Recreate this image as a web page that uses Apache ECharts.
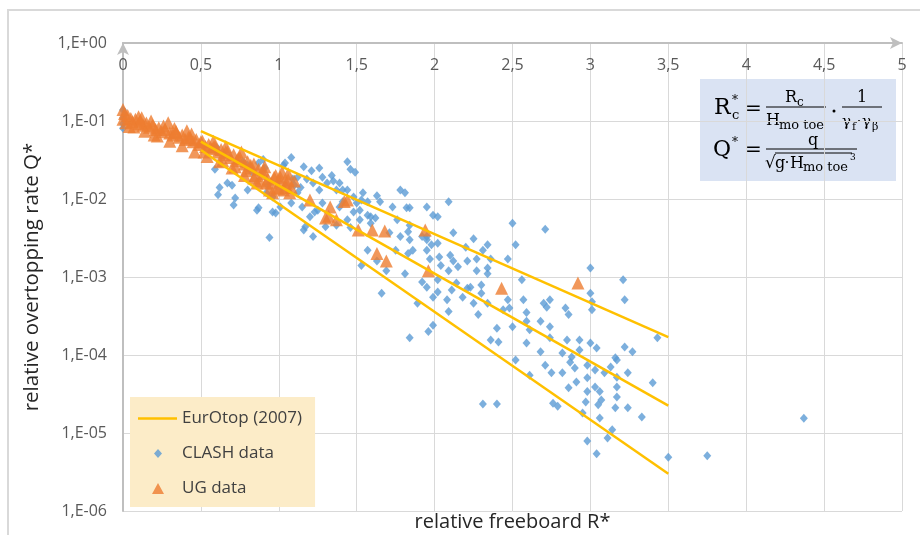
<!DOCTYPE html>
<html>
<head>
<meta charset="utf-8">
<script src="https://cdn.jsdelivr.net/npm/echarts@6/dist/echarts.min.js"></script>
<style>
html, body { margin: 0; padding: 0; background: #fff; }
#chart { width: 920px; height: 535px; }
</style>
</head>
<body>
<div id="chart"></div>
<script>
// EurOtop (2007) lines: [R*, Q*] end points
const eurotopUpper = [[0.5, 0.074], [3.5, 0.00017]];
const eurotopMean = [[0.5, 0.0545], [3.5, 0.0000224]];
const eurotopLower = [[0.5, 0.0425], [3.5, 0.000003]];

// CLASH data [R*, Q*]
const clashData = [
    [0, 0.138], [0, 0.109], [0, 0.092], [0, 0.081], [0.01, 0.12],
    [0.60, 0.046], [0.61, 0.040], [0.59, 0.024], [0.67, 0.016], [0.70, 0.015], [0.62, 0.014], [0.61, 0.0113],
    [0.72, 0.0103], [0.71, 0.0084], [0.77, 0.030], [0.80, 0.027], [0.87, 0.029], [0.90, 0.032], [0.91, 0.025],
    [0.83, 0.022], [0.86, 0.0072], [0.96, 0.0068], [1.04, 0.029], [1.08, 0.034], [1.16, 0.026], [1.21, 0.023],
    [1.12, 0.019], [1.10, 0.015], [1.15, 0.0079], [1.08, 0.0089], [1.17, 0.0044], [1.23, 0.0068], [0.93, 0.015],
    [0.96, 0.0106], [0.80, 0.013], [0.87, 0.0077], [0.94, 0.0032], [1.22, 0.0033], [1.16, 0.0040], [0.98, 0.0066],
    [1.03, 0.027], [1.26, 0.025], [1.34, 0.020], [1.44, 0.030], [1.46, 0.024], [1.49, 0.022], [1.39, 0.016],
    [1.31, 0.016], [1.26, 0.013], [1.14, 0.014], [1.20, 0.0059], [1.30, 0.0044], [1.39, 0.0079], [1.48, 0.0068],
    [1.54, 0.012], [1.57, 0.0092], [1.52, 0.0072], [1.52, 0.0054], [1.59, 0.0059], [1.63, 0.011], [1.65, 0.0092],
    [1.62, 0.0057], [1.57, 0.0022], [1.46, 0.0043], [1.78, 0.013], [1.81, 0.012], [1.73, 0.0079], [1.76, 0.0054],
    [1.82, 0.0077], [1.71, 0.0037], [1.78, 0.0033], [1.84, 0.0046], [1.95, 0.0079], [1.99, 0.0062], [1.95, 0.0030],
    [1.86, 0.0022], [1.75, 0.0022], [2.02, 0.0027], [2.09, 0.0092], [2.02, 0.0059], [1.83, 0.0038], [1.84, 0.0030],
    [1.95, 0.0033], [1.95, 0.0022], [1.98, 0.0026], [1.83, 0.0020], [1.81, 0.0011], [1.92, 0.00086], [1.99, 0.00055],
    [1.89, 0.00046], [2.08, 0.00051], [2.09, 0.00036], [2.12, 0.0037], [2.04, 0.0014], [2.12, 0.0016], [2.15, 0.00135],
    [2.14, 0.00084], [2.21, 0.0016], [2.25, 0.0031], [2.21, 0.00072], [2.31, 0.0022], [2.34, 0.0026], [2.27, 0.0012],
    [2.34, 0.0013], [2.30, 0.00079], [2.36, 0.0017], [2.25, 0.00046], [2.34, 0.00046], [2.28, 0.00033], [2.50, 0.0049],
    [2.52, 0.0026], [2.47, 0.0017], [2.56, 0.00092], [2.47, 0.00051], [2.57, 0.00051], [2.59, 0.00035], [2.71, 0.0041],
    [2.74, 0.00051], [2.72, 0.00041], [3.00, 0.0013], [3.21, 0.00092], [3.22, 0.00051], [2.34, 0.0011], [2.30, 0.00062],
    [2.48, 0.0004], [2.44, 0.00038], [2.70, 0.00046], [2.84, 0.0004], [2.86, 0.00033], [3.00, 0.00062], [3.01, 0.00048],
    [3.01, 0.00038], [2.59, 0.00027], [2.61, 0.00021], [2.68, 0.00027], [2.74, 0.00023], [2.40, 0.00022], [2.50, 0.00023],
    [2.36, 0.000156], [2.41, 0.000147], [2.59, 0.000143], [2.74, 0.000166], [2.85, 0.000156], [2.93, 0.000156],
    [3.00, 0.000143], [3.04, 0.000123], [2.82, 0.000106], [2.88, 0.000094], [2.93, 0.000116], [2.68, 0.00011],
    [2.52, 0.000086], [2.71, 0.000074], [2.82, 0.000059], [2.98, 0.000074], [3.03, 0.000064], [3.13, 0.00007],
    [3.17, 0.000086], [3.22, 0.000127], [3.09, 0.000059], [2.61, 0.000055], [2.75, 0.000059], [2.87, 0.000081],
    [2.90, 0.000068], [3.17, 0.000052], [3.24, 0.000059], [3.40, 0.000044], [2.98, 0.000051], [2.86, 0.000038],
    [2.91, 0.000045], [2.98, 0.000034], [2.97, 0.000025], [3.03, 0.000039], [3.06, 0.000034], [3.07, 0.0000265],
    [3.05, 0.000023], [3.17, 0.000039], [3.17, 0.000029], [3.16, 0.000021], [3.24, 0.000021], [3.33, 0.000016],
    [3.06, 0.0000156], [2.76, 0.000024], [2.79, 0.000022], [2.95, 0.000018], [3.14, 0.000011], [3.11, 0.0000086],
    [2.98, 0.0000079], [3.04, 0.0000054], [3.50, 0.0000049], [3.75, 0.0000051], [4.37, 0.0000155], [3.43, 0.000166],
    [3.27, 0.00011], [3.16, 0.000092], [2.31, 0.0000235], [2.40, 0.0000235], [1.66, 0.00062], [1.84, 0.000166],
    [1.96, 0.0002], [1.99, 0.00024], [1.69, 0.0012], [1.41, 0.013], [1.53, 0.0097], [1.84, 0.0077], [1.92, 0.0033],
    [1.63, 0.0016], [1.53, 0.0014], [1.97, 0.0017], [2.03, 0.0018], [2.10, 0.0019], [2.09, 0.0012], [2.27, 0.0017],
    [2.20, 0.0024], [2.02, 0.00064], [2.11, 0.00068], [2.18, 0.00055], [2.23, 0.00074], [1.95, 0.00074], [2.02, 0.00092],
    [1.09, 0.018], [1.18, 0.018], [1.22, 0.016], [1.28, 0.019], [1.35, 0.017], [1.37, 0.013], [1.44, 0.013],
    [1.48, 0.0106], [1.41, 0.0092], [1.50, 0.0089], [1.57, 0.0062], [1.59, 0.0049], [1.37, 0.0046], [1.44, 0.0054],
    [1.25, 0.0072], [1.28, 0.0089], [1.12, 0.012], [1.01, 0.0079], [0.92, 0.012]
];

// UG data [R*, Q*]
const ugData = [
    [0.00, 0.14], [0.00, 0.105], [0.01, 0.125], [0.02, 0.095], [0.03, 0.118], [0.05, 0.108], [0.06, 0.098],
    [0.08, 0.105], [0.10, 0.092], [0.11, 0.1], [0.13, 0.088], [0.15, 0.094], [0.17, 0.083], [0.19, 0.088],
    [0.21, 0.078], [0.23, 0.082], [0.25, 0.073], [0.27, 0.078], [0.29, 0.095], [0.30, 0.07], [0.32, 0.066],
    [0.34, 0.071], [0.36, 0.062], [0.38, 0.066], [0.40, 0.058], [0.41, 0.075], [0.43, 0.06], [0.45, 0.054],
    [0.47, 0.058], [0.49, 0.05], [0.51, 0.055], [0.53, 0.047], [0.55, 0.05], [0.57, 0.044], [0.59, 0.047],
    [0.61, 0.04], [0.63, 0.043], [0.65, 0.037], [0.67, 0.04], [0.69, 0.034], [0.71, 0.037], [0.73, 0.031],
    [0.75, 0.034], [0.78, 0.028], [0.80, 0.03], [0.82, 0.025], [0.85, 0.02], [0.86, 0.016], [0.87, 0.024],
    [0.90, 0.021], [0.93, 0.018], [0.95, 0.016], [0.97, 0.019], [0.99, 0.014], [1.01, 0.017], [1.03, 0.013],
    [1.05, 0.016], [1.06, 0.021], [1.08, 0.014], [1.10, 0.017],
    [0.04, 0.085], [0.12, 0.11], [0.20, 0.066], [0.33, 0.08], [0.44, 0.068], [0.52, 0.04], [0.58, 0.055],
    [0.64, 0.031], [0.66, 0.047], [0.72, 0.026], [0.76, 0.04], [0.79, 0.023], [0.84, 0.028], [0.88, 0.017],
    [0.91, 0.026], [0.96, 0.012], [1.02, 0.022], [1.07, 0.012],
    [0.07, 0.084], [0.14, 0.074], [0.22, 0.064], [0.30, 0.055], [0.38, 0.048], [0.46, 0.040], [0.54, 0.035],
    [0.62, 0.030], [0.70, 0.025], [0.78, 0.020], [0.84, 0.0186], [0.92, 0.016], [1.00, 0.0135],
    [0.10, 0.113], [0.18, 0.1], [0.26, 0.086], [0.34, 0.074], [0.42, 0.062], [0.50, 0.054], [0.58, 0.046],
    [0.66, 0.040], [0.74, 0.033], [0.82, 0.027], [0.90, 0.0235], [0.98, 0.020], [1.06, 0.0176],
    [1.01, 0.019], [1.05, 0.014], [0.94, 0.013], [1.20, 0.0097], [1.33, 0.0079], [1.32, 0.006], [1.30, 0.0057],
    [1.37, 0.0054], [1.42, 0.0093], [1.44, 0.0097], [1.51, 0.004], [1.60, 0.004], [1.68, 0.0039], [1.63, 0.002],
    [1.69, 0.0016], [1.94, 0.004], [1.96, 0.0012], [2.43, 0.00072], [2.92, 0.00084]
];

const yTickLabels = ['1,E-06', '1,E-05', '1,E-04', '1,E-03', '1,E-02', '1,E-01', '1,E+00'];

const sans = '"Open Sans", sans-serif';
const serif = '"DejaVu Serif", serif';
const axisGrey = '#bfbfbf';

// formula box helpers
function txt(text, x, y, size, align) {
    return {
        type: 'text', x: x, y: y, silent: true,
        style: {text: text, fontFamily: serif, fontSize: size, fill: '#000', align: align || 'left', verticalAlign: 'middle'}
    };
}
function bar(x1, x2, y) {
    return {type: 'line', silent: true, shape: {x1: x1, y1: y, x2: x2, y2: y}, style: {stroke: '#000', lineWidth: 1}};
}
function dot(x, y, r) {
    return {type: 'circle', silent: true, shape: {cx: x, cy: y, r: r}, style: {fill: '#000'}};
}

const formula = {
    type: 'group', z: 100,
    children: [
        {type: 'rect', shape: {x: 700, y: 79, width: 196, height: 102}, style: {fill: '#dae3f3'}, silent: true},
        txt('R', 714, 108, 22), txt('*', 732, 101, 12), txt('c', 732, 116, 13),
        txt('=', 745, 110, 20),
        txt('R', 785, 98, 16), txt('c', 797, 103, 12),
        bar(766, 826, 107),
        txt('H', 766, 121, 16), txt('mo toe', 779, 126, 13),
        dot(834, 111, 1.5),
        txt('1', 862, 98, 16, 'center'),
        bar(842, 882, 107),
        txt('γ', 842, 122, 15), txt('f', 852, 127, 11), dot(859, 121, 1),
        txt('γ', 862, 122, 15), txt('β', 872, 127, 11),
        txt('Q', 713, 150, 22), txt('*', 732, 143, 12),
        txt('=', 745, 151, 20),
        txt('q', 813, 141, 16, 'center'),
        bar(766, 857, 149),
        txt('√', 765, 164, 17),
        bar(775, 852, 153),
        txt('g', 775, 164, 16), dot(787, 162, 1),
        txt('H', 790, 164, 16), txt('mo toe', 803, 168, 13), txt('3', 850, 158, 9)
    ]
};

// legend icons (39x12 box), thin corner specks keep the box size
const box = 'M0,0 L0.01,0 L0,0.01 Z M39,12 L38.99,12 L39,11.99 Z ';
const lineIcon = 'path://' + box + 'M0,4.8 L39,4.8 L39,7.2 L0,7.2 Z';
const diamondIcon = 'path://' + box + 'M20,1.5 L24,6 L20,10.5 L16,6 Z';
const triangleIcon = 'path://' + box + 'M20,0.5 L26,11.5 L14,11.5 Z';

const chart = echarts.init(document.getElementById('chart'));

const lineStyle = {color: '#FFC000', width: 2.5};

const option = {
    backgroundColor: '#fff',
    animation: false,
    grid: {left: 123, right: 18, top: 43, bottom: 24, outerBoundsMode: 'none'},
    legend: {
        orient: 'vertical',
        left: 130,
        top: 397,
        backgroundColor: '#fcecc8',
        padding: [13, 13, 10, 8],
        itemWidth: 39,
        itemHeight: 12,
        itemGap: 18,
        textStyle: {fontFamily: sans, fontSize: 17, color: '#404040'},
        data: [
            {name: 'EurOtop (2007)', icon: lineIcon},
            {name: 'CLASH data', icon: diamondIcon},
            {name: 'UG data', icon: triangleIcon}
        ]
    },
    xAxis: [
        {
            type: 'value',
            position: 'top',
            min: 0,
            max: 5,
            interval: 0.5,
            axisLine: {show: true, onZero: false, lineStyle: {color: axisGrey, width: 2}, symbol: ['none', 'arrow'], symbolSize: [9, 12]},
            axisTick: {show: false},
            axisLabel: {
                inside: true, margin: 14, color: '#595959', fontFamily: sans, fontSize: 16,
                formatter: (v) => String(v).replace('.', ',')
            },
            splitLine: {show: true, lineStyle: {color: '#d9d9d9', width: 1}}
        },
        {
            type: 'value',
            position: 'bottom',
            min: 0,
            max: 5,
            axisLine: {show: false},
            axisTick: {show: false},
            axisLabel: {show: false},
            splitLine: {show: false},
            name: 'relative freeboard R*',
            nameLocation: 'middle',
            nameGap: 1,
            nameTextStyle: {fontFamily: sans, fontSize: 20, color: '#262626'}
        }
    ],
    yAxis: {
        type: 'log',
        logBase: 10,
        min: 1e-6,
        max: 1,
        axisLine: {show: true, onZero: false, lineStyle: {color: axisGrey, width: 2}, symbol: ['none', 'arrow'], symbolSize: [9, 12]},
        axisTick: {show: false},
        axisLabel: {
            margin: 16, color: '#595959', fontFamily: sans, fontSize: 16,
            formatter: (v) => yTickLabels[Math.round(Math.log10(v)) + 6]
        },
        splitLine: {show: true, lineStyle: {color: '#d9d9d9', width: 1}},
        name: 'relative overtopping rate Q*',
        nameLocation: 'middle',
        nameRotate: 90,
        nameGap: 80,
        nameTextStyle: {fontFamily: sans, fontSize: 20.5, color: '#262626'}
    },
    graphic: [
        {type: 'rect', silent: true, z: -1, shape: {x: 8, y: 10, width: 940, height: 560}, style: {fill: 'none', stroke: '#d9d9d9', lineWidth: 2}},
        formula
    ],
    series: [
        {name: 'EurOtop (2007)', type: 'line', data: eurotopUpper, symbol: 'none', lineStyle: lineStyle, itemStyle: {color: '#FFC000'}},
        {name: 'EurOtop (2007)', type: 'line', data: eurotopMean, symbol: 'none', lineStyle: lineStyle, itemStyle: {color: '#FFC000'}},
        {name: 'EurOtop (2007)', type: 'line', data: eurotopLower, symbol: 'none', lineStyle: lineStyle, itemStyle: {color: '#FFC000'}},
        {name: 'CLASH data', type: 'scatter', data: clashData, symbol: 'diamond', symbolSize: [8, 9], itemStyle: {color: '#5B9BD5'}},
        {name: 'UG data', type: 'scatter', data: ugData, symbol: 'triangle', symbolSize: 13, itemStyle: {color: '#ED7D31'}}
    ]
};

chart.setOption(option);
</script>
</body>
</html>
